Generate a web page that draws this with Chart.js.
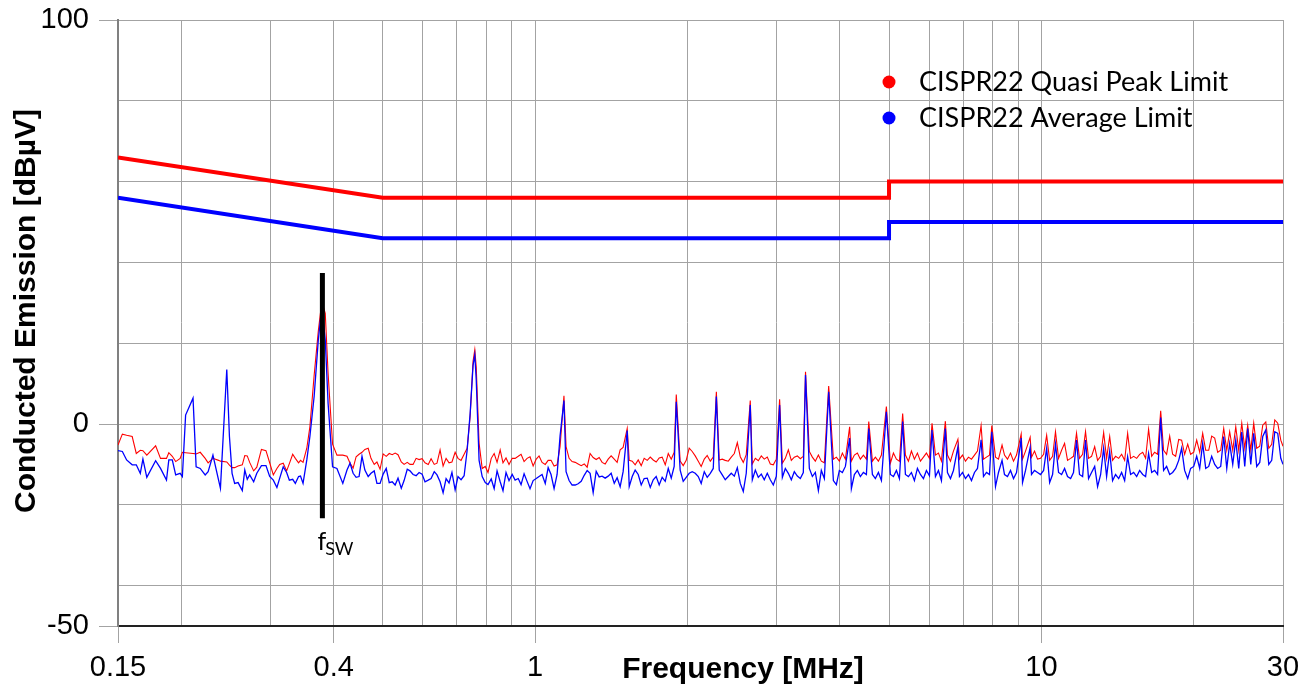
<!DOCTYPE html>
<html>
<head>
<meta charset="utf-8">
<script src="https://cdn.jsdelivr.net/npm/chart.js@4.4.1/dist/chart.umd.min.js"></script>
<style>
  html, body { margin: 0; padding: 0; background: #fff; }
  #wrap { width: 1311px; height: 686px; }
</style>
</head>
<body>
<div id="wrap"><canvas id="emiChart" width="1311" height="686"></canvas></div>
<script>
// axis ticks
const xGridMHz = [0.15, 0.2, 0.3, 0.4, 0.5, 0.6, 0.7, 0.8, 0.9, 1, 2, 3, 4, 5, 6, 7, 8, 9, 10, 20, 30];
const xLabelMHz = [0.15, 0.4, 1, 10, 30];
const yGrid = [-50, -40, -20, 0, 20, 40, 60, 80, 100];
const yLabel = [-50, 0, 100];

// CISPR22 class B limits
const qpLimitFreq = [0.15, 0.5, 5, 5, 30];
const qpLimitLevel = [66, 56, 56, 60, 60];
const avgLimitFreq = [0.15, 0.5, 5, 5, 30];
const avgLimitLevel = [56, 46, 46, 50, 50];

// switching frequency marker
const fswFreq = [0.38, 0.38];
const fswLevel = [37.4, -23.3];

// measured spectrum, 0.15 - 1.17 MHz
const lowFreq = [0.150,0.153,0.156,0.160,0.163,0.166,0.168,0.171,0.178,0.182,
  0.187,0.189,0.192,0.195,0.199,0.201,0.204,0.211,0.214,0.218,
  0.223,0.226,0.231,0.237,0.239,0.246,0.249,0.252,0.255,0.259,
  0.264,0.267,0.270,0.273,0.278,0.282,0.288,0.294,0.299,0.304,
  0.309,0.313,0.318,0.323,0.327,0.332,0.336,0.341,0.344,0.348,
  0.354,0.359,0.366,0.373,0.379,0.385,0.390,0.398,0.406,0.417,0.425,
  0.431,0.437,0.443,0.449,0.455,0.461,0.468,0.474,0.481,0.487,
  0.494,0.501,0.508,0.515,0.522,0.529,0.536,0.544,0.551,0.559,
  0.566,0.574,0.582,0.590,0.598,0.606,0.615,0.623,0.632,0.640,
  0.649,0.658,0.667,0.676,0.685,0.695,0.704,0.714,0.724,0.734,
  0.744,0.754,0.760,0.765,0.775,0.786,0.797,0.807,0.819,0.830,
  0.841,0.853,0.864,0.876,0.888,0.901,0.913,0.926,0.938,0.951,
  0.964,0.977,0.991,1.005,1.018,1.032,1.047,1.061,1.075,1.090,
  1.105,1.120,1.140,1.151,1.167];
const lowPeak = [-5.2,-2.5,-2.8,-3.1,-7.3,-6.5,-6.6,-7.7,-5.4,-8.5,
  -8.5,-7.1,-8.0,-9.3,-8.5,-7.0,-7.1,-7.3,-7.4,-7.0,
  -8.5,-9.6,-8.5,-9.0,-9.2,-9.4,-10.2,-10.8,-10.8,-10.4,
  -10.1,-7.8,-7.9,-9.5,-11.6,-10.7,-6.3,-6.6,-9.6,-12.6,
  -11.0,-10.0,-9.7,-11.6,-9.8,-7.5,-8.5,-9.6,-9.0,-9.5,
  -6.0,-0.7,12.0,23.0,30.3,27.4,12.5,-5.0,-7.7,-7.7,-8.0,
  -9.7,-10.9,-8.1,-7.5,-7.0,-6.3,-6.0,-8.5,-10.0,-9.4,
  -11.2,-7.4,-8.0,-7.3,-7.6,-7.2,-7.6,-9.4,-10.0,-9.5,
  -10.0,-10.0,-8.5,-8.8,-8.6,-9.6,-10.0,-8.6,-10.0,-9.7,
  -6.4,-10.4,-8.5,-9.6,-9.4,-7.0,-8.5,-9.0,-7.5,-6.0,
  1.8,15.5,18.4,14.1,-4.8,-11.0,-10.5,-12.0,-8.5,-7.3,
  -9.5,-6.4,-9.6,-8.4,-10.0,-8.5,-8.5,-8.0,-7.5,-9.3,
  -8.5,-8.1,-10.4,-8.7,-7.9,-9.5,-10.0,-9.0,-9.0,-10.4,
  -10.1,-5.6,7.0,-5.6,-8.5];
const lowAvg = [-6.6,-6.8,-8.9,-10.1,-10.1,-12.2,-8.7,-13.2,-9.1,-11.0,
  -13.9,-8.9,-8.9,-12.6,-12.2,-13.0,2.2,6.4,-10.6,-11.0,
  -12.6,-11.8,-7.7,-13.9,-15.9,13.5,-3.1,-12.2,-14.7,-14.5,
  -16.5,-11.4,-13.7,-12.6,-14.3,-12.2,-10.3,-10.3,-13.0,-13.9,
  -15.7,-13.4,-10.6,-12.0,-13.9,-13.7,-14.7,-13.0,-12.9,-14.7,
  -8.9,-3.1,6.8,20.8,29.0,20.8,5.1,-10.6,-11.0,-14.7,-11.4,
  -9.7,-12.2,-13.2,-13.0,-8.0,-11.4,-13.0,-12.2,-11.6,-14.7,
  -14.7,-12.4,-11.0,-14.5,-14.3,-15.1,-13.4,-15.9,-14.0,-11.2,
  -11.6,-12.5,-12.8,-12.0,-12.4,-14.3,-13.9,-13.5,-11.8,-12.6,
  -14.3,-17.0,-13.5,-14.6,-12.0,-16.3,-13.0,-13.8,-12.8,-6.5,
  2.5,14.5,17.1,10.9,-9.0,-13.0,-14.5,-15.0,-13.6,-16.0,
  -11.6,-14.3,-16.5,-12.0,-14.0,-12.5,-13.9,-13.5,-15.0,-12.3,
  -14.2,-16.0,-14.0,-13.5,-13.0,-12.5,-14.7,-10.8,-12.5,-16.0,
  -12.5,-3.0,5.8,-11.8,-14.0];

// measured spectrum, 1.18 - 3.3 MHz
const midFreq = [1.183,1.200,1.216,1.233,1.250,1.267,1.284,1.302,1.320,1.338,
  1.356,1.375,1.394,1.413,1.433,1.452,1.472,1.492,1.520,1.534,
  1.555,1.576,1.598,1.620,1.642,1.665,1.688,1.711,1.734,1.758,
  1.782,1.807,1.832,1.857,1.882,1.900,1.934,1.961,1.988,2.015,
  2.043,2.071,2.100,2.128,2.158,2.187,2.218,2.248,2.280,2.310,
  2.342,2.374,2.407,2.440,2.474,2.508,2.542,2.577,2.612,2.660,
  2.685,2.722,2.759,2.797,2.835,2.874,2.914,2.954,2.995,3.040,
  3.078,3.120,3.163,3.206,3.250,3.295];
const midPeak = [-9.3,-9.5,-9.9,-10.3,-9.9,-10.7,-7.3,-8.3,-8.8,-8.3,
  -9.5,-9.9,-8.7,-7.9,-8.7,-9.5,-6.4,-5.8,-1.1,-9.0,
  -9.2,-10.1,-8.9,-10.3,-8.5,-9.0,-8.2,-8.9,-9.4,-8.4,
  -8.2,-10.1,-7.3,-8.7,-7.0,7.3,-9.2,-10.3,-9.0,-6.0,
  -6.8,-7.9,-9.2,-10.5,-8.7,-7.8,-9.2,-8.2,8.0,-8.9,
  -8.7,-9.0,-9.2,-8.2,-7.3,-4.6,-8.1,-9.5,-7.6,5.8,
  -9.9,-8.5,-9.1,-7.9,-8.7,-8.2,-9.9,-10.1,-8.7,6.1,
  -9.7,-8.5,-6.4,-9.0,-8.2,-7.9];
const midAvg = [-15.1,-15.1,-14.8,-14.2,-12.7,-11.5,-12.2,-17.0,-11.7,-13.1,
  -12.9,-13.4,-12.9,-12.2,-14.7,-13.3,-15.5,-11.8,-1.6,-15.5,
  -13.0,-11.4,-12.5,-15.1,-13.5,-13.4,-15.7,-13.8,-13.0,-15.1,
  -13.2,-14.2,-11.0,-13.4,-10.5,5.5,-11.4,-14.2,-13.2,-12.2,
  -11.8,-12.2,-13.0,-14.7,-11.8,-13.2,-12.2,-11.0,6.8,-11.4,
  -12.6,-13.8,-13.0,-12.2,-12.9,-10.8,-14.7,-16.7,-12.2,4.7,
  -13.8,-11.4,-13.2,-12.4,-13.8,-12.2,-13.8,-15.1,-12.9,4.7,
  -13.2,-11.0,-12.2,-13.8,-11.8,-12.9];

// measured spectrum, 3.3 - 30 MHz
const highFreq = [3.340,3.386,3.420,3.480,3.528,3.576,3.626,3.675,3.726,3.800,
  3.882,3.935,3.989,4.044,4.100,4.180,4.213,4.271,4.330,4.389,
  4.450,4.511,4.560,4.636,4.699,4.764,4.830,4.940,5.031,5.101,
  5.171,5.242,5.320,5.387,5.461,5.536,5.612,5.689,5.768,5.847,
  5.927,6.009,6.080,6.175,6.260,6.346,6.460,6.522,6.612,6.702,
  6.840,6.888,6.983,7.079,7.176,7.275,7.375,7.476,7.600,7.683,
  7.789,7.896,7.980,8.115,8.226,8.360,8.454,8.570,8.688,8.807,
  8.929,9.120,9.176,9.302,9.500,9.559,9.691,9.824,
  9.959,10.10,10.24,10.38,10.52,10.66,10.81,10.96,11.11,11.26,
  11.42,11.57,11.73,11.89,12.06,12.22,12.39,12.56,12.74,12.91,
  13.09,13.27,13.45,13.64,13.82,14.01,14.21,14.40,14.60,14.80,
  15.00,15.21,15.42,15.63,15.85,16.06,16.28,16.51,16.73,16.96,
  17.20,17.43,17.67,17.92,18.16,18.41,18.67,18.92,19.18,19.45,
  19.71,19.99,20.26,20.54,20.82,21.11,21.40,21.69,21.99,22.29,
  22.60,22.91,23.23,23.54,23.87,24.20,24.53,24.87,25.21,25.55,
  25.91,26.26,26.62,26.99,27.36,27.74,28.12,28.50,28.90,29.29,
  29.70,30.0];
const highPeak = [-8.6,-8.0,12.9,-6.8,-8.2,-9.2,-7.7,-9.2,-9.6,9.4,
  -8.7,-8.2,-9.2,-7.2,-8.7,-0.7,-9.2,-7.7,-7.2,-8.7,
  -7.7,-8.7,0.6,-9.2,-8.2,-9.2,-7.7,4.3,-9.7,-7.2,
  -8.7,-9.2,2.6,-7.7,-9.2,-6.7,-8.7,-7.2,-9.2,-8.2,
  -7.2,-8.5,0.2,-7.7,-7.2,-9.2,0.7,-7.7,-9.2,-6.7,
  -3.8,-8.7,-7.7,-9.2,-8.2,-8.7,-7.7,-6.7,-0.4,-8.7,
  -8.2,-7.7,-0.4,-8.2,-8.7,-5.2,-7.7,-8.7,-7.2,-9.2,
  -7.7,-2.5,-8.7,-6.7,-3.3,-8.2,-6.7,-8.7,
  -8.5,-7.5,-2.8,-9.0,-8.0,-1.9,-8.5,-6.5,-4.8,-9.0,
  -8.5,-8.0,-2.3,-8.5,-7.5,-1.9,-8.5,-8.0,-5.6,-9.0,
  -8.0,-2.1,-8.5,-3.1,-9.0,-8.0,-8.5,-7.5,-9.0,-2.3,
  -8.5,-8.0,-8.5,-7.5,-7.0,-8.5,-1.3,-8.0,-7.0,-7.5,
  3.3,-6.5,-7.5,-3.0,-7.5,-8.0,-3.8,-4.0,-7.5,-5.0,
  -7.5,-7.0,-4.0,-7.0,-2.3,-6.5,-6.5,-3.0,-3.5,-7.0,
  -6.5,-1.1,-6.5,-1.9,-6.5,-0.7,-6.5,0.2,-6.0,-0.3,
  -6.5,0.2,-6.0,-5.5,-0.3,0.5,-6.0,-5.0,1.0,0.2,
  -4.0,-5.5];
const highAvg = [-13.5,-12.0,12.1,-11.0,-13.0,-12.0,-16.5,-11.5,-13.5,8.0,
  -14.0,-15.0,-11.5,-12.0,-10.5,-3.5,-16.0,-12.5,-11.5,-13.0,
  -12.0,-12.5,-1.1,-12.5,-13.5,-12.0,-14.0,3.0,-12.5,-13.0,
  -11.5,-13.5,0.6,-12.5,-13.0,-12.0,-14.0,-11.0,-12.5,-13.5,
  -11.5,-12.8,-1.5,-13.0,-11.5,-14.0,-1.1,-12.0,-13.5,-11.5,
  -5.6,-13.0,-12.0,-13.5,-12.5,-14.0,-12.0,-11.0,-3.9,-13.0,
  -12.0,-12.5,-1.9,-15.5,-12.0,-9.0,-12.5,-13.0,-11.5,-13.5,
  -12.0,-3.5,-14.5,-11.5,-5.8,-12.5,-11.5,-12.0,
  -12.5,-11.5,-6.0,-14.5,-12.5,-5.0,-12.0,-12.5,-11.0,-13.0,
  -13.5,-12.0,-4.0,-12.5,-13.0,-4.0,-13.5,-12.0,-10.5,-15.5,
  -12.5,-6.0,-13.0,-6.8,-14.0,-12.5,-13.5,-12.0,-14.0,-8.1,
  -12.5,-12.0,-13.0,-11.5,-12.5,-13.0,-7.3,-12.0,-11.5,-12.5,
  1.6,-11.5,-10.5,-12.5,-12.0,-11.0,-9.0,-6.0,-11.5,-13.5,
  -11.0,-10.5,-8.0,-11.0,-4.8,-11.0,-10.5,-8.0,-10.0,-11.0,
  -10.5,-3.1,-11.0,-4.8,-10.0,-4.0,-11.0,-2.0,-10.5,-1.1,
  -10.0,-2.3,-10.5,-9.5,-3.1,-1.5,-10.0,-9.0,-1.9,-2.3,
  -8.5,-10.0];

const sansFont = '"Liberation Sans", Arial, sans-serif';
const textFont = 'Lato, "Open Sans", sans-serif';
const gridGrey = '#a3a3a3';

const toPoints = (xs, ys) => xs.map((x, i) => ({ x: x, y: ys[i] }));
const freq = lowFreq.concat(midFreq, highFreq);
const peakLevel = lowPeak.concat(midPeak, highPeak);
const avgLevel = lowAvg.concat(midAvg, highAvg);

// titles, legend and the fsw label
const overlay = {
  id: 'overlay',
  afterDraw(chart) {
    const ctx = chart.ctx;
    const x = chart.scales.x;
    const y = chart.scales.y;
    ctx.save();
    ctx.fillStyle = '#000';
    ctx.textBaseline = 'alphabetic';

    ctx.font = 'bold 30px ' + sansFont;
    ctx.textAlign = 'center';
    ctx.fillText('Frequency [MHz]', 743, 678);
    ctx.save();
    ctx.translate(35, 311);
    ctx.rotate(-Math.PI / 2);
    ctx.fillText('Conducted Emission [dBµV]', 0, 0);
    ctx.restore();

    // legend for the two limit lines
    ctx.textAlign = 'left';
    ctx.font = '27px ' + textFont;
    [1, 2].forEach((di, row) => {
      const ds = chart.data.datasets[di];
      const cy = 82 + row * 36;
      ctx.fillStyle = ds.borderColor;
      ctx.beginPath();
      ctx.arc(889, cy, 6.5, 0, Math.PI * 2);
      ctx.fill();
      ctx.fillStyle = '#000';
      ctx.fillText(ds.label, 919, cy + 9);
    });

    // f_SW label under the marker
    const fx = x.getPixelForValue(fswFreq[0]);
    const fy = y.getPixelForValue(fswLevel[1]) + 32;
    ctx.font = '25px ' + textFont;
    ctx.fillText('f', fx - 5, fy);
    const fw = ctx.measureText('f').width;
    ctx.font = '18px ' + textFont;
    ctx.fillText('SW', fx - 5 + fw - 1, fy + 5);
    ctx.restore();
  }
};

new Chart(document.getElementById('emiChart'), {
  type: 'line',
  data: {
    datasets: [
      {
        label: 'fSW',
        data: toPoints(fswFreq, fswLevel),
        borderColor: '#000',
        borderWidth: 5,
        borderCapStyle: 'butt',
        pointRadius: 0,
      },
      {
        label: 'CISPR22 Quasi Peak Limit',
        data: toPoints(qpLimitFreq, qpLimitLevel),
        borderColor: '#ff0000',
        borderWidth: 4,
        borderJoinStyle: 'miter',
        pointRadius: 0,
      },
      {
        label: 'CISPR22 Average Limit',
        data: toPoints(avgLimitFreq, avgLimitLevel),
        borderColor: '#0000ff',
        borderWidth: 4,
        borderJoinStyle: 'miter',
        pointRadius: 0,
      },
      {
        label: 'Average',
        data: toPoints(freq, avgLevel),
        borderColor: '#0000ff',
        borderWidth: 1.3,
        pointRadius: 0,
      },
      {
        label: 'Peak',
        data: toPoints(freq, peakLevel),
        borderColor: '#ff0000',
        borderWidth: 1.1,
        pointRadius: 0,
      },
    ],
  },
  options: {
    responsive: false,
    animation: false,
    devicePixelRatio: 1,
    layout: { padding: { top: 20, right: 28, left: 0, bottom: 0 } },
    plugins: {
      legend: { display: false },
      tooltip: { enabled: false },
    },
    scales: {
      x: {
        type: 'logarithmic',
        min: 0.15,
        max: 30,
        afterBuildTicks: (s) => { s.ticks = xGridMHz.map((v) => ({ value: v })); },
        afterFit: (s) => { s.height = 60; },
        ticks: {
          autoSkip: false,
          maxRotation: 0,
          padding: 8,
          color: '#000',
          font: { family: sansFont, size: 29 },
          callback: (v) => (xLabelMHz.includes(v) ? String(v) : ''),
        },
        grid: {
          color: gridGrey,
          tickLength: 17,
          tickColor: (c) => (c.tick && xLabelMHz.includes(c.tick.value) ? gridGrey : 'rgba(0,0,0,0)'),
        },
        border: { color: '#222', width: 2 },
      },
      y: {
        min: -50,
        max: 100,
        afterBuildTicks: (s) => { s.ticks = yGrid.map((v) => ({ value: v })); },
        afterFit: (s) => {
          s.width = 118;
          s.paddingTop = 0;
          s.paddingBottom = 0;
        },
        ticks: {
          autoSkip: false,
          padding: 10,
          color: '#000',
          font: { family: sansFont, size: 29 },
          callback: (v) => (yLabel.includes(v) ? String(v) : ''),
        },
        grid: {
          color: gridGrey,
          tickLength: 19,
          tickColor: (c) => (c.tick && yLabel.includes(c.tick.value) ? gridGrey : 'rgba(0,0,0,0)'),
        },
        border: { color: '#808080', width: 2 },
      },
    },
  },
  plugins: [overlay],
});
</script>
</body>
</html>
